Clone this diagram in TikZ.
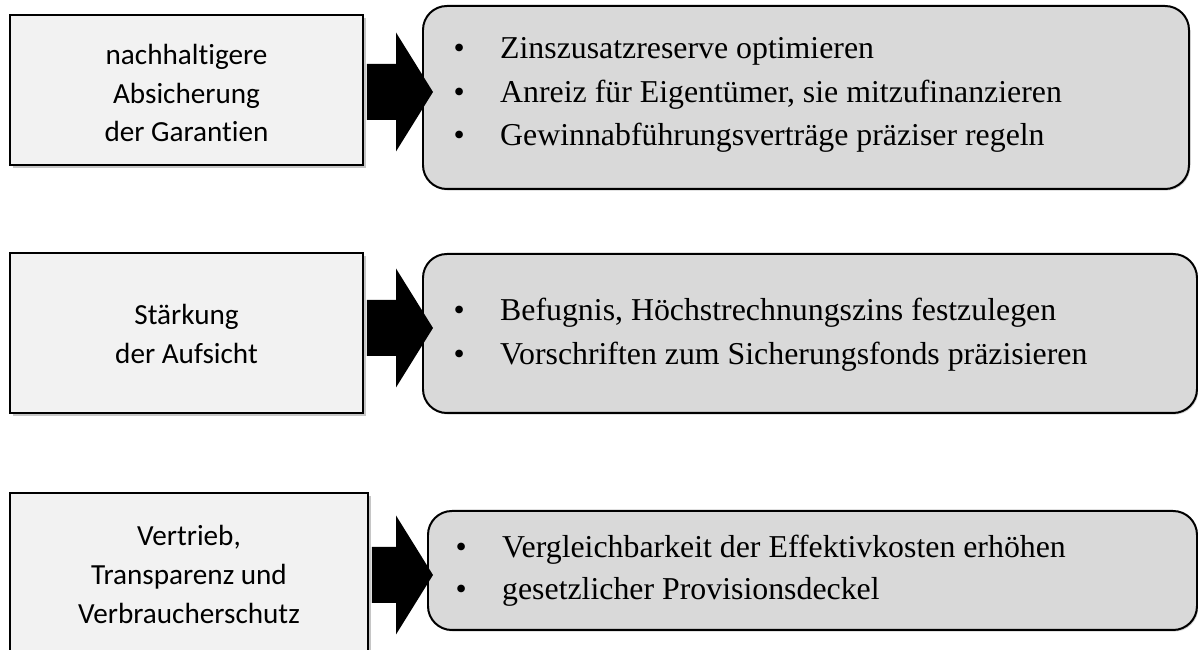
\documentclass[tikz,border=0pt]{standalone}
\usepackage{fontspec}
\setmainfont{Liberation Serif}
\newfontfamily\calibri{Carlito}[Ligatures=NoCommon]
\usetikzlibrary{fit,shadows,calc}

\newcommand\punkt{\makebox[17.6pt][l]{\textbullet}}

\tikzset{
  leftbox/.style={draw, line width=0.75pt, fill=black!5, inner sep=0pt,
    drop shadow={shadow xshift=1pt, shadow yshift=-1pt, opacity=0.45}},
  lefttext/.style={align=center, inner sep=0pt, font=\calibri\fontsize{11}{14.6}\selectfont},
  listbox/.style={draw, line width=0.75pt, fill=black!15, rounded corners=9pt, inner sep=0pt,
    drop shadow={shadow xshift=0.5pt, shadow yshift=-0.6pt, opacity=0.35}},
  item/.style={anchor=base west, inner sep=0pt, font=\fontsize{12}{14}\selectfont},
}

\begin{document}
\begin{tikzpicture}[x=0.377pt, y=-0.377pt]
    \clip (0,0) rectangle (1198,650);
    % linke Kaesten
    \node [leftbox, fit={(10,15) (363,165)}] (garantien) {};
    \node [leftbox, fit={(10,253) (363,413)}] (aufsicht) {};
    \node [leftbox, fit={(10,493) (368,656)}] (vertrieb) {};
    \node [lefttext] (garantientext) at ($(garantien.center)+(0,3)$) {nachhaltigere\\Absicherung\\der Garantien};
    \node [lefttext] (aufsichttext) at ($(aufsicht.center)+(0,1)$) {St\"arkung\\der Aufsicht};
    \node [lefttext] (vertriebtext) at (vertrieb.center) {Vertrieb,\\Transparenz und\\Verbraucherschutz};
    % rechte Kaesten
    \node [listbox, fit={(423,6) (1189,189)}] (garantienliste) {};
    \node [listbox, fit={(423,254) (1197,413)}] (aufsichtliste) {};
    \node [listbox, fit={(428,511) (1197,630)}] (vertriebliste) {};
    % Pfeile
    \foreach \von/\y in {garantien/92, aufsicht/328, vertrieb/575}
    {
        \coordinate (spitze\von) at (433,\y);
        \fill ($(\von.east |- spitze\von)+(3,-28)$) -- (396,\y-28) -- (396,\y-59.5) -- (spitze\von)
            -- (396,\y+59.5) -- (396,\y+28) -- ($(\von.east |- spitze\von)+(3,28)$) -- cycle;
    }
    % Listen
    \node [item] (z1) at (453,59) {\punkt Zinszusatzreserve optimieren};
    \node [item] (z2) at (453,102.5) {\punkt Anreiz f\"ur Eigent\"umer, sie mitzufinanzieren};
    \node [item] (z3) at (453,146) {\punkt Gewinnabf\"uhrungsvertr\"age pr\"aziser regeln};
    \node [item] (a1) at (453,320.7) {\punkt Befugnis, H\"ochstrechnungszins festzulegen};
    \node [item] (a2) at (453,365) {\punkt Vorschriften zum Sicherungsfonds pr\"azisieren};
    \node [item] (v1) at (455,557.3) {\punkt Vergleichbarkeit der Effektivkosten erh\"ohen};
    \node [item] (v2) at (455,600) {\punkt gesetzlicher Provisionsdeckel};
\end{tikzpicture}
\end{document}
